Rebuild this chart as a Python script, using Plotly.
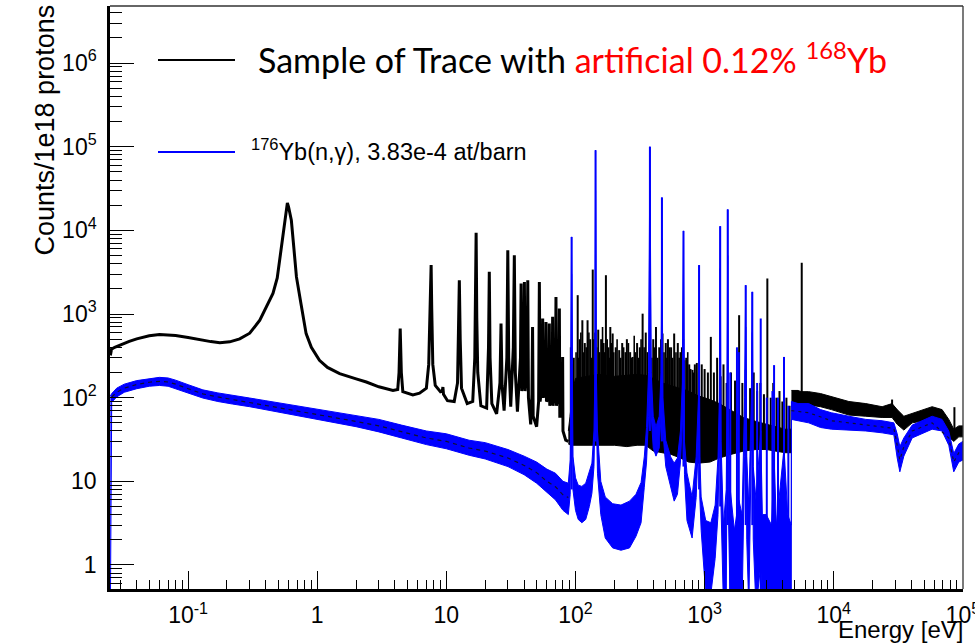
import plotly.graph_objects as go

# ---------------- data ----------------
# Black: sample of trace with artificial 0.12% 168Yb -- resolved part (eV, counts/1e18 protons)
black_E = [0.0250, 0.0255, 0.0270, 0.0300, 0.0350, 0.0400, 0.0500, 0.0600, 0.0700, 0.0800,
           0.1000, 0.1230, 0.1500, 0.1760, 0.2100, 0.2510, 0.3000, 0.3590, 0.4100, 0.4540,
           0.4900, 0.5110, 0.5400, 0.5600, 0.5750, 0.5870, 0.6000, 0.6300, 0.6600, 0.6900,
           0.7500, 0.8200, 0.9000, 1.0400, 1.2000, 1.4900, 2.0000, 2.4000, 3.0000, 3.8600,
           4.2000, 4.3000, 4.3900, 4.4800, 4.6000, 5.5000, 6.2000, 7.0000, 7.3000, 7.4500,
           7.5500, 7.6200, 7.7000, 7.8500, 8.2000, 9.0000, 9.3000, 9.4000, 9.5000, 10.200,
           11.500, 12.200, 12.400, 12.600, 12.800, 13.100, 14.500, 16.000, 16.600, 16.800,
           17.000, 17.200, 17.500, 18.500, 20.500, 21.200, 21.500, 21.800, 22.500, 24.500,
           26.000, 26.500, 27.000, 28.000, 29.400, 29.900, 30.400, 31.500, 33.000, 33.600,
           34.200, 35.500, 37.500, 37.900, 38.400, 39.700, 40.200, 40.700, 42.200, 42.700,
           43.200, 45.000, 46.000, 46.500, 47.000, 50.000, 51.800, 52.500, 53.200, 55.200,
           55.700, 56.300, 58.600, 59.100, 59.600, 62.200, 62.700, 63.200, 66.000, 66.500,
           67.000, 70.000, 70.600, 71.200, 74.400, 75.000, 75.600, 79.000, 79.500, 80.000,
           84.000, 88.000]
black_C = [320, 380, 400, 430, 470, 505, 550, 570, 568, 555,
           525, 490, 468, 455, 465, 505, 590, 843, 1250, 1760,
           2700, 4400, 8000, 13200, 19000, 21300, 19000, 13200, 6000, 2780,
           1300, 583, 400, 280, 230, 194, 168, 154, 135, 122,
           125, 200, 670, 200, 118, 108, 113, 130, 250, 1170,
           1500, 3840, 1200, 250, 140, 118, 120, 134, 110, 92,
           90, 150, 600, 2540, 500, 130, 85, 90, 300, 1000,
           9340, 900, 200, 80, 75, 400, 3190, 300, 85, 64,
           150, 769, 140, 70, 300, 5790, 300, 78, 400, 5040,
           200, 68, 300, 2320, 120, 200, 2420, 120, 250, 2540,
           100, 48, 110, 700, 60, 45, 90, 2420, 90, 150,
           884, 100, 150, 805, 90, 100, 770, 80, 120, 925,
           80, 150, 1600, 80, 150, 1165, 60, 60, 307, 40,
           31, 30]

# Black: dense unresolved region (core band)
core_E = [88, 92, 96, 100, 120, 150, 200, 250, 300, 350, 400, 470, 550, 650, 750,
          900, 1100, 1300, 1600, 2000, 2500, 3000, 3600, 4200, 4700]
core_lo = [28, 27, 27, 27, 27, 27, 27, 26, 27, 27, 23, 22, 21, 19, 17,
           16.5, 17, 19, 21, 23, 24, 24, 23, 22, 22]
core_hi = [40, 80, 130, 170, 180, 190, 180, 185, 190, 185, 170, 150, 140, 130, 120,
           105, 95, 85, 70, 58, 52, 48, 44, 42, 42]

# Black: above the 4.7 keV step
tail_E = [4700, 5300, 5600, 6400, 7900, 9600, 13100, 17700, 23700, 28300,
          31000, 34900, 40500, 57800, 69000, 77800, 85000, 93000, 100000]
tail_lo = [78, 85, 80, 82, 78, 72, 62, 60, 58, 58, 48, 41, 50, 55, 50, 34, 30, 34, 34]
tail_hi = [122, 122, 118, 118, 112, 103, 90, 85, 78, 85, 72, 60, 65, 78, 72, 55, 42, 46, 46]

# Black resonance spikes (strong ones)
bspk_E = [92, 97, 104, 108, 113, 118, 124, 130, 136, 142,
          150, 158, 165, 172, 180, 186, 194, 205, 218, 230,
          250, 265, 277, 300, 315, 331, 350, 400, 420, 445,
          472, 500, 520, 550, 581, 620, 650, 682, 720, 760,
          805, 840, 870, 950, 1000, 1060, 1117, 1180, 1250, 1330,
          1400, 1480, 1600, 1720, 1850, 1960, 2080, 2250, 2400, 2550,
          2700, 2880, 3060, 3250, 3400, 3600, 3800, 4000, 4300, 4550,
          5650, 28300, 86000]
bspk_top = [400, 300, 1680, 500, 843, 450, 843, 500, 3400, 600,
            650, 500, 450, 2910, 400, 700, 585, 400, 370, 450,
            500, 350, 307, 450, 400, 1010, 600, 500, 700, 400,
            585, 450, 500, 400, 585, 450, 350, 500, 300, 250,
            215, 250, 260, 250, 220, 200, 533, 200, 300, 180,
            250, 150, 200, 160, 968, 150, 215, 130, 200, 120,
            150, 110, 2660, 100, 150, 100, 120, 90, 100, 80,
            4100, 95, 77]
bspk_base = [60, 100, 150, 150, 150, 150, 150, 150, 150, 150,
             150, 150, 150, 150, 150, 150, 150, 150, 150, 150,
             150, 150, 150, 150, 150, 150, 150, 140, 140, 130,
             130, 120, 120, 110, 110, 100, 100, 100, 90, 90,
             80, 80, 80, 70, 70, 70, 60, 60, 60, 55,
             55, 50, 50, 45, 45, 42, 42, 40, 40, 38,
             38, 36, 36, 34, 34, 32, 32, 30, 30, 30,
             100, 70, 40]

# Black weaker resonances filling the comb of the dense region
bcomb_E = [95, 101, 106, 110, 116, 121, 127, 133, 139, 146,
           154, 162, 168, 176, 183, 190, 198, 210, 224, 236,
           243, 257, 270, 285, 292, 308, 322, 340, 360, 375,
           390, 410, 432, 458, 485, 510, 535, 565, 600, 635,
           665, 700, 740, 780, 820, 900]
bcomb_top = [250, 350, 300, 600, 350, 400, 600, 300, 500, 400,
             350, 700, 350, 500, 300, 450, 350, 500, 300, 400,
             350, 450, 300, 550, 350, 300, 500, 400, 350, 450,
             300, 400, 300, 500, 350, 300, 400, 300, 350, 300,
             400, 280, 350, 220, 200, 200]
bcomb_base = [100, 150, 150, 150, 150, 150, 150, 150, 150, 150,
              150, 150, 150, 150, 150, 150, 150, 150, 150, 150,
              150, 150, 150, 150, 150, 150, 150, 150, 150, 150,
              150, 140, 130, 130, 120, 120, 110, 110, 100, 100,
              100, 90, 90, 80, 80, 80]

# Blue: 176Yb(n,g) band (lower / upper edge of the error band)
blue_E = [0.0250, 0.0256, 0.0280, 0.0320, 0.0400, 0.0500, 0.0600, 0.0700, 0.0800, 0.1000,
          0.1300, 0.1700, 0.2200, 0.3000, 0.4000, 0.5500, 0.7500, 1.0000, 1.4000, 2.0000,
          3.0000, 4.5000, 7.0000, 10.000, 15.000, 20.000, 30.000, 40.000, 50.000, 60.000,
          70.000, 80.000, 88.000, 91.000, 93.300, 95.500, 100.00, 105.00, 112.00, 120.00,
          128.00, 134.00, 139.00, 141.50, 143.00, 145.00, 148.00, 157.00, 170.00, 194.00,
          225.00, 262.00, 294.00, 322.00, 341.00, 355.00, 368.00, 377.00, 386.00, 400.00,
          420.00, 445.00, 460.00, 467.00, 475.00, 500.00, 546.00, 581.00, 616.00, 650.00,
          672.00, 686.00, 698.00, 730.00, 800.00, 860.00, 896.00, 906.00, 918.00, 940.00,
          1020.0, 1117.0, 1207.0, 1270.0, 1300.0, 1320.0, 1340.0, 1400.0, 1470.0, 1495.0,
          1510.0, 1525.0, 1580.0, 1700.0, 1840.0, 1950.0, 2040.0, 2080.0, 2120.0, 2200.0,
          2300.0, 2340.0, 2380.0, 2500.0, 2720.0, 2800.0, 3000.0, 3300.0, 3450.0, 3600.0,
          4120.0, 4400.0, 4690.0, 4700.0, 5300.0, 6400.0, 7900.0, 9600.0, 13100., 17700.,
          23700., 29200., 31000., 32500., 34900., 40500., 57800., 69000., 77800., 85000.,
          93000., 100000.]
blue_lo = [0.3, 88, 102, 116, 128, 137, 140, 137, 129, 114,
           99, 90, 84, 78, 72, 66, 60, 55, 50, 45,
           39, 33, 27.5, 24.5, 20.5, 18.5, 15, 12, 9.5, 7.5,
           6, 4.5, 4, 7, 3000, 8, 4.5, 3.5, 3.2, 3.5,
           5, 7.2, 15, 60, 30000, 60, 12.5, 4, 2.1, 1.6,
           1.5, 1.6, 2.2, 3.2, 8.5, 17, 60, 30000, 60, 25,
           20, 25, 60, 8000, 40, 15, 8.5, 5.8, 7, 17,
           50, 3000, 12, 3.4, 2.1, 6.4, 30, 1200, 6.5, 2.6,
           0.45, 0.45, 1.2, 4, 30, 3500, 5, 0.3, 0.3, 50,
           5000, 5, 0.3, 0.3, 0.3, 0.3, 20, 700, 2, 0.3,
           30, 600, 2, 0.3, 1, 0.3, 0.3, 0.3, 0.5, 0.3,
           0.5, 0.3, 0.3, 55, 53, 50, 44, 42, 41, 40,
           38, 36, 19, 13, 20, 33, 42, 40, 27, 13,
           17, 18]
blue_hi = [105, 112, 130, 145, 160, 170, 175, 172, 162, 143,
           124, 114, 106, 99, 92, 85, 79, 73, 67, 61,
           55, 47, 40, 37, 31, 29, 24, 20, 17, 14,
           12.5, 10, 9.5, 18, 8350, 20, 11, 9, 8.7, 9.5,
           13, 16.5, 40, 200, 91000, 200, 40, 10, 6.5, 5.4,
           5.2, 5.8, 7, 9.7, 19.6, 44, 200, 100000, 200, 60,
           45, 60, 200, 24700, 100, 31, 19.6, 16.5, 19, 40,
           150, 9860, 30, 12.6, 6.5, 19.6, 100, 3840, 20, 6.5,
           3.4, 3.2, 5.2, 19.6, 100, 11200, 30, 3, 8, 200,
           17800, 50, 8, 2.6, 6, 4, 100, 2210, 20, 5,
           100, 1840, 15, 6, 40, 4, 4, 3, 20, 3,
           25, 4, 3, 90, 85, 85, 72, 66, 60, 55,
           53, 50, 37, 26, 33, 47, 60, 55, 40, 21.5,
           28, 30]

# Blue resonance spikes
uspk_E = [93.3, 143, 377, 467, 686, 906, 1320, 1510, 1580, 1780,
          1840, 2080, 2340, 2550, 2720, 3030, 3350, 3450, 3700, 4120, 4450]
uspk_top = [8350, 91000, 100000, 24700, 9860, 3840, 11200, 17800, 200, 400,
            350, 2210, 1840, 150, 884, 100, 120, 245, 100, 307, 80]
uspk_base = [8, 30, 40, 30, 15, 8, 5, 3, 0.4, 0.4,
             0.4, 3, 3, 0.4, 0.4, 0.4, 0.4, 0.4, 0.4, 0.4, 0.4]

# Central values of the blue histogram (dark dashes)
bmid_E = [0.0256, 0.028, 0.032, 0.04, 0.05, 0.06, 0.07, 0.08, 0.1, 0.13,
          0.17, 0.22, 0.3, 0.4, 0.55, 0.75, 1.0, 1.4, 2.0, 3.0,
          4.5, 7.0, 10, 15, 20, 30, 40, 50, 60, 70, 80, 88]
bmid_C = [102, 116, 130, 144, 153, 157, 154, 145, 128, 111,
          102, 95, 88, 81, 75, 69, 63, 58, 52, 46,
          39, 33, 30, 25, 23, 19, 15.5, 12.7, 10, 8.6, 6.9, 6.4]
bmid2_E = [4700, 6400, 9600, 17700, 29200, 31000, 32500, 34900, 40500, 57800, 77800, 85000, 93000, 100000]
bmid2_C = [70, 66, 53, 47, 43, 27, 18, 26, 40, 50, 33, 17, 22, 23]

# Axis ticks
x_tickvals = [0.1, 1, 10, 100, 1000, 10000, 100000]
x_ticktext = ["10<sup>-1</sup>", "1", "10", "10<sup>2</sup>", "10<sup>3</sup>", "10<sup>4</sup>", "10<sup>5</sup>"]
y_tickvals = [1, 10, 100, 1000, 10000, 100000, 1000000]
y_ticktext = ["1", "10", "10<sup>2</sup>", "10<sup>3</sup>", "10<sup>4</sup>", "10<sup>5</sup>", "10<sup>6</sup>"]
x_minor = [m * 10.0 ** k for k in range(-2, 5) for m in range(2, 10)]
y_minor = [m * 10.0 ** k for k in range(-1, 7) for m in range(2, 10)]

# ---------------- figure ----------------
def band(E, lo, hi):
    return list(E) + list(E)[::-1], list(hi) + list(lo)[::-1]

def spikes(E, top, base):
    xs, ys = [], []
    for e, t, b in zip(E, top, base):
        xs += [e, e, None]
        ys += [b, t, None]
    return xs, ys

BLUE = "#0000FF"
fig = go.Figure()

bx, by = band(core_E, core_lo, core_hi)
fig.add_trace(go.Scatter(x=bx, y=by, mode="lines", fill="toself", fillcolor="black",
                         line=dict(color="black", width=1), hoverinfo="skip"))
tx, ty = band(tail_E, tail_lo, tail_hi)
fig.add_trace(go.Scatter(x=tx, y=ty, mode="lines", fill="toself", fillcolor="black",
                         line=dict(color="black", width=1), hoverinfo="skip"))
fig.add_trace(go.Scatter(x=black_E, y=black_C, mode="lines",
                         line=dict(color="black", width=3), hoverinfo="skip"))
sx, sy = spikes(bspk_E, bspk_top, bspk_base)
fig.add_trace(go.Scatter(x=sx, y=sy, mode="lines",
                         line=dict(color="black", width=2), hoverinfo="skip"))
cx, cy = spikes(bcomb_E, bcomb_top, bcomb_base)
fig.add_trace(go.Scatter(x=cx, y=cy, mode="lines",
                         line=dict(color="black", width=1.6), hoverinfo="skip"))

ux, uy = band(blue_E, blue_lo, blue_hi)
fig.add_trace(go.Scatter(x=ux, y=uy, mode="lines", fill="toself", fillcolor=BLUE,
                         line=dict(color=BLUE, width=1), hoverinfo="skip"))
px_, py_ = spikes(uspk_E, uspk_top, uspk_base)
fig.add_trace(go.Scatter(x=px_, y=py_, mode="lines",
                         line=dict(color=BLUE, width=2), hoverinfo="skip"))
fig.add_trace(go.Scatter(x=bmid_E, y=bmid_C, mode="lines",
                         line=dict(color="#101030", width=1.2, dash="4px,4px"), hoverinfo="skip"))
fig.add_trace(go.Scatter(x=bmid2_E, y=bmid2_C, mode="lines",
                         line=dict(color="#101030", width=1.2, dash="3px,4px"), hoverinfo="skip"))

# plot-area pixel helpers for legend / titles
L, R, T, B = 110, 963, 6, 589
def px(x):
    return (x - L) / (R - L)
def py(y):
    return (B - y) / (B - T)

SANS = "Arial, Liberation Sans, sans-serif"
tickfont = dict(family=SANS, size=23, color="black")
fig.update_layout(
    width=975, height=644,
    margin=dict(l=L, r=975 - R, t=T, b=644 - B, autoexpand=False),
    paper_bgcolor="white", plot_bgcolor="white",
    showlegend=False,
    font=dict(family=SANS, size=23, color="black"),
    xaxis=dict(type="log", range=[-1.605, 5.001], showgrid=False, zeroline=False,
               showline=True, linecolor="black", linewidth=2.5, automargin=False,
               ticks="inside", ticklen=18, tickwidth=1.3, tickcolor="black",
               tickmode="array", tickvals=x_tickvals, ticktext=x_ticktext,
               tickfont=tickfont, ticklabelstandoff=4, ticklabeloverflow="allow",
               minor=dict(tickmode="array", tickvals=x_minor, ticks="inside",
                          ticklen=9, tickwidth=1.3, tickcolor="black", showgrid=False)),
    yaxis=dict(type="log", range=[-0.287, 6.682], showgrid=False, zeroline=False,
               showline=True, linecolor="black", linewidth=2.5, automargin=False,
               ticks="inside", ticklen=24, tickwidth=1.3, tickcolor="black",
               tickmode="array", tickvals=y_tickvals, ticktext=y_ticktext,
               tickfont=tickfont, ticklabelstandoff=6,
               minor=dict(tickmode="array", tickvals=y_minor, ticks="inside",
                          ticklen=12, tickwidth=1.3, tickcolor="black", showgrid=False)),
)

shapes = [
    dict(type="line", xref="paper", yref="paper", x0=0, x1=1, y0=1, y1=1,
         line=dict(color="#333333", width=1.3)),
    dict(type="line", xref="paper", yref="paper", x0=1, x1=1, y0=0, y1=1,
         line=dict(color="#333333", width=1.3)),
    dict(type="line", xref="paper", yref="paper", x0=px(158), x1=px(235), y0=py(60), y1=py(60),
         line=dict(color="black", width=2)),
    dict(type="line", xref="paper", yref="paper", x0=px(158), x1=px(235), y0=py(152), y1=py(152),
         line=dict(color=BLUE, width=2)),
]
fig.update_layout(shapes=shapes)

annotations = [
    dict(text="Counts/1e18 protons", xref="paper", yref="paper", x=px(44), y=py(3),
         xanchor="center", yanchor="top", textangle=-90, showarrow=False,
         font=dict(family=SANS, size=27, color="black")),
    dict(text="Energy [eV]", xref="paper", yref="paper", x=px(965), y=py(629),
         xanchor="right", yanchor="middle", showarrow=False,
         font=dict(family=SANS, size=24, color="black")),
    dict(text="Sample of Trace with <span style='color:#FF0000'>artificial 0.12% <sup>168</sup>Yb</span>",
         xref="paper", yref="paper", x=px(256), y=py(58), xanchor="left", yanchor="middle",
         showarrow=False, font=dict(family="Lato, Open Sans, sans-serif", size=34, color="black")),
    dict(text="<sup>176</sup>Yb(n,γ), 3.83e-4 at/barn",
         xref="paper", yref="paper", x=px(249), y=py(150), xanchor="left", yanchor="middle",
         showarrow=False, font=dict(family=SANS, size=23.5, color="black")),
]
fig.update_layout(annotations=annotations)

fig.write_html("out.html")
